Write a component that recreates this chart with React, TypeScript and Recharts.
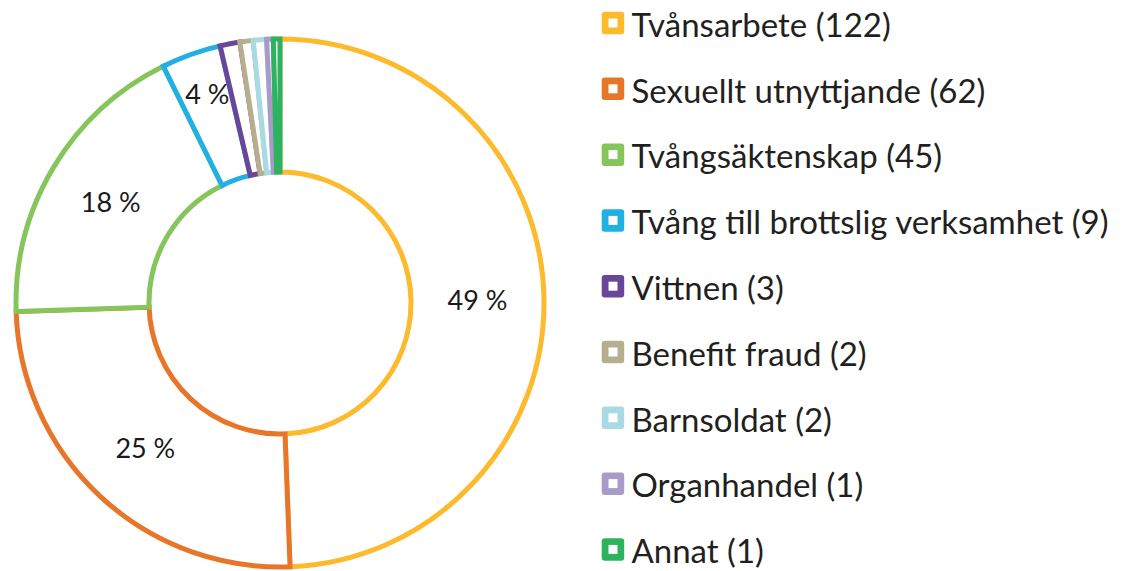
import React from 'react';
import { PieChart, Pie, Cell } from 'recharts';

const categories = [
  'Tvånsarbete',
  'Sexuellt utnyttjande',
  'Tvångsäktenskap',
  'Tvång till brottslig verksamhet',
  'Vittnen',
  'Benefit fraud',
  'Barnsoldat',
  'Organhandel',
  'Annat',
];
const counts = [122, 62, 45, 9, 3, 2, 2, 1, 1];
const colors = ['#FDBA2C', '#E8762A', '#86C55B', '#20B0E4', '#68479B', '#B7AE8E', '#A7DAE3', '#A89BC8', '#2DB35F'];

const data = categories.map((name, i) => ({ name, value: counts[i] }));

const RAD = Math.PI / 180;

const renderLabel = (props: any) => {
  const { cx, cy, midAngle, innerRadius, outerRadius, percent, index } = props;
  if (index > 3) return null;
  let r = (innerRadius + outerRadius) / 2;
  let dx = 0;
  // the small blue slice has its label pushed outwards
  if (index === 3) {
    r = outerRadius - 42;
    dx = 2;
  }
  const x = cx + r * Math.cos(-midAngle * RAD) + dx;
  const y = cy + r * Math.sin(-midAngle * RAD);
  return (
    <text
      x={x}
      y={y}
      fill="#1a1a1a"
      textAnchor="middle"
      dominantBaseline="central"
      style={{ fontFamily: 'Lato, "Open Sans", sans-serif', fontSize: 27 }}
    >
      {`${Math.round(percent * 100)} %`}
    </text>
  );
};

function LegendBox() {
  return (
    <svg
      width={524}
      height={571}
      style={{ position: 'absolute', left: 600, top: 0 }}
    >
      {data.map((d, i) => {
        const cy = 22.8 + i * 65.8;
        return (
          <g key={d.name}>
            <rect x={1.7} y={cy - 11} width={22.5} height={22.5} rx={3} fill={colors[i]} />
            <rect x={8.5} y={cy - 4.3} width={9} height={9} fill="#fff" />
            <text
              x={31.5}
              y={cy + 14}
              fill="#231f20"
              style={{ fontFamily: 'Lato, "Open Sans", sans-serif', fontSize: 33 }}
            >
              {`${d.name} (${d.value})`}
            </text>
          </g>
        );
      })}
    </svg>
  );
}

export default function App() {
  React.useEffect(() => {
    document.body.style.margin = '0';
  }, []);
  return (
    <div style={{ width: 1124, height: 571, background: '#fff', position: 'relative' }}>
      <PieChart width={1124} height={571} margin={{ top: 0, right: 0, bottom: 0, left: 0 }}>
        <Pie
          data={data}
          dataKey="value"
          nameKey="name"
          cx={280}
          cy={303}
          innerRadius={131}
          outerRadius={264}
          startAngle={90}
          endAngle={-270}
          fill="#fff"
          strokeWidth={5}
          label={renderLabel}
          labelLine={false}
          isAnimationActive={false}
        >
          {data.map((_, i) => (
            <Cell key={i} fill="#fff" stroke={colors[i]} />
          ))}
        </Pie>
      </PieChart>
      <LegendBox />
    </div>
  );
}
